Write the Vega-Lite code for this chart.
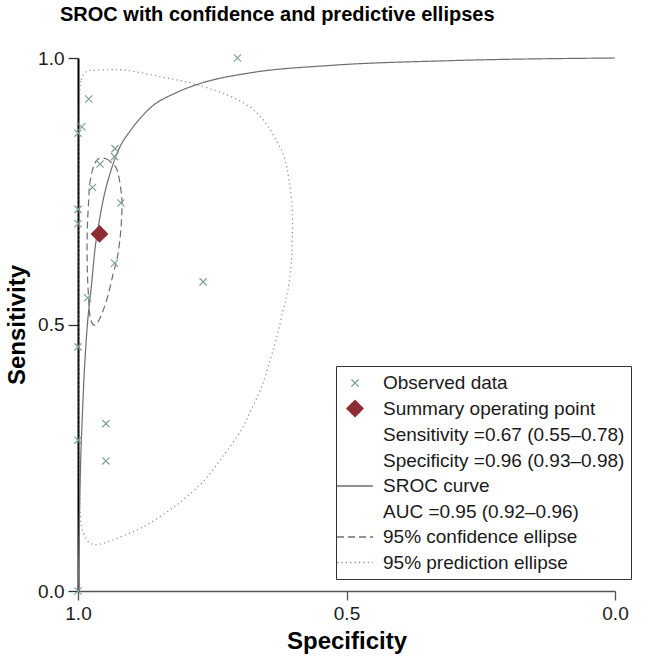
{
  "$schema": "https://vega.github.io/schema/vega-lite/v6.json",
  "width": 537,
  "height": 533,
  "autosize": {"type": "none"},
  "padding": {"left": 78, "top": 58, "right": 38, "bottom": 69},
  "background": "white",
  "title": {
    "text": "SROC with confidence and predictive ellipses",
    "font": "Liberation Sans",
    "fontSize": 20,
    "fontWeight": "bold",
    "color": "#000",
    "anchor": "start",
    "frame": "group",
    "dx": -18,
    "offset": 24
  },
  "datasets": {
    "pts": [
      {"series": "Observed data", "spec": 0.703, "sens": 1.0},
      {"series": "Observed data", "spec": 0.98, "sens": 0.923},
      {"series": "Observed data", "spec": 0.993, "sens": 0.871},
      {"series": "Observed data", "spec": 1.0, "sens": 0.859},
      {"series": "Observed data", "spec": 0.931, "sens": 0.83},
      {"series": "Observed data", "spec": 0.932, "sens": 0.815},
      {"series": "Observed data", "spec": 0.959, "sens": 0.801},
      {"series": "Observed data", "spec": 0.973, "sens": 0.757},
      {"series": "Observed data", "spec": 0.92, "sens": 0.728},
      {"series": "Observed data", "spec": 1.0, "sens": 0.716},
      {"series": "Observed data", "spec": 1.0, "sens": 0.689},
      {"series": "Observed data", "spec": 0.932, "sens": 0.615},
      {"series": "Observed data", "spec": 0.767, "sens": 0.58},
      {"series": "Observed data", "spec": 0.982, "sens": 0.55},
      {"series": "Observed data", "spec": 1.0, "sens": 0.458},
      {"series": "Observed data", "spec": 0.948, "sens": 0.314},
      {"series": "Observed data", "spec": 1.0, "sens": 0.283},
      {"series": "Observed data", "spec": 0.948, "sens": 0.244},
      {"series": "Observed data", "spec": 1.0, "sens": 0.0},
      {"series": "Summary operating point", "spec": 0.96, "sens": 0.67}
    ],
    "curves": [
      {"series": "SROC curve", "o": 1, "spec": 0.9996, "sens": 0.0},
      {"series": "SROC curve", "o": 2, "spec": 0.998, "sens": 0.096},
      {"series": "SROC curve", "o": 3, "spec": 0.995, "sens": 0.246},
      {"series": "SROC curve", "o": 4, "spec": 0.993, "sens": 0.302},
      {"series": "SROC curve", "o": 5, "spec": 0.989, "sens": 0.396},
      {"series": "SROC curve", "o": 6, "spec": 0.984, "sens": 0.48},
      {"series": "SROC curve", "o": 7, "spec": 0.974, "sens": 0.583},
      {"series": "SROC curve", "o": 8, "spec": 0.968, "sens": 0.645},
      {"series": "SROC curve", "o": 9, "spec": 0.964, "sens": 0.672},
      {"series": "SROC curve", "o": 10, "spec": 0.953, "sens": 0.734},
      {"series": "SROC curve", "o": 11, "spec": 0.937, "sens": 0.794},
      {"series": "SROC curve", "o": 12, "spec": 0.922, "sens": 0.833},
      {"series": "SROC curve", "o": 13, "spec": 0.903, "sens": 0.863},
      {"series": "SROC curve", "o": 14, "spec": 0.885, "sens": 0.886},
      {"series": "SROC curve", "o": 15, "spec": 0.866, "sens": 0.906},
      {"series": "SROC curve", "o": 16, "spec": 0.819, "sens": 0.934},
      {"series": "SROC curve", "o": 17, "spec": 0.773, "sens": 0.952},
      {"series": "SROC curve", "o": 18, "spec": 0.68, "sens": 0.972},
      {"series": "SROC curve", "o": 19, "spec": 0.531, "sens": 0.986},
      {"series": "SROC curve", "o": 20, "spec": 0.307, "sens": 0.995},
      {"series": "SROC curve", "o": 21, "spec": 0.0, "sens": 1.0},

      {"series": "95% confidence ellipse", "o": 1, "spec": 0.959, "sens": 0.812},
      {"series": "95% confidence ellipse", "o": 2, "spec": 0.948, "sens": 0.811},
      {"series": "95% confidence ellipse", "o": 3, "spec": 0.939, "sens": 0.805},
      {"series": "95% confidence ellipse", "o": 4, "spec": 0.929, "sens": 0.794},
      {"series": "95% confidence ellipse", "o": 5, "spec": 0.924, "sens": 0.777},
      {"series": "95% confidence ellipse", "o": 6, "spec": 0.92, "sens": 0.752},
      {"series": "95% confidence ellipse", "o": 7, "spec": 0.918, "sens": 0.728},
      {"series": "95% confidence ellipse", "o": 8, "spec": 0.919, "sens": 0.696},
      {"series": "95% confidence ellipse", "o": 9, "spec": 0.922, "sens": 0.659},
      {"series": "95% confidence ellipse", "o": 10, "spec": 0.927, "sens": 0.625},
      {"series": "95% confidence ellipse", "o": 11, "spec": 0.935, "sens": 0.593},
      {"series": "95% confidence ellipse", "o": 12, "spec": 0.944, "sens": 0.555},
      {"series": "95% confidence ellipse", "o": 13, "spec": 0.953, "sens": 0.527},
      {"series": "95% confidence ellipse", "o": 14, "spec": 0.961, "sens": 0.508},
      {"series": "95% confidence ellipse", "o": 15, "spec": 0.968, "sens": 0.499},
      {"series": "95% confidence ellipse", "o": 16, "spec": 0.974, "sens": 0.503},
      {"series": "95% confidence ellipse", "o": 17, "spec": 0.978, "sens": 0.518},
      {"series": "95% confidence ellipse", "o": 18, "spec": 0.98, "sens": 0.546},
      {"series": "95% confidence ellipse", "o": 19, "spec": 0.982, "sens": 0.583},
      {"series": "95% confidence ellipse", "o": 20, "spec": 0.983, "sens": 0.621},
      {"series": "95% confidence ellipse", "o": 21, "spec": 0.983, "sens": 0.659},
      {"series": "95% confidence ellipse", "o": 22, "spec": 0.982, "sens": 0.696},
      {"series": "95% confidence ellipse", "o": 23, "spec": 0.98, "sens": 0.734},
      {"series": "95% confidence ellipse", "o": 24, "spec": 0.978, "sens": 0.765},
      {"series": "95% confidence ellipse", "o": 25, "spec": 0.972, "sens": 0.794},
      {"series": "95% confidence ellipse", "o": 26, "spec": 0.966, "sens": 0.807},

      {"series": "95% prediction ellipse", "o": 1, "spec": 0.997, "sens": 0.921},
      {"series": "95% prediction ellipse", "o": 2, "spec": 0.994, "sens": 0.959},
      {"series": "95% prediction ellipse", "o": 3, "spec": 0.985, "sens": 0.974},
      {"series": "95% prediction ellipse", "o": 4, "spec": 0.972, "sens": 0.977},
      {"series": "95% prediction ellipse", "o": 5, "spec": 0.94, "sens": 0.978},
      {"series": "95% prediction ellipse", "o": 6, "spec": 0.909, "sens": 0.977},
      {"series": "95% prediction ellipse", "o": 7, "spec": 0.847, "sens": 0.965},
      {"series": "95% prediction ellipse", "o": 8, "spec": 0.786, "sens": 0.952},
      {"series": "95% prediction ellipse", "o": 9, "spec": 0.723, "sens": 0.931},
      {"series": "95% prediction ellipse", "o": 10, "spec": 0.68, "sens": 0.908},
      {"series": "95% prediction ellipse", "o": 11, "spec": 0.652, "sens": 0.88},
      {"series": "95% prediction ellipse", "o": 12, "spec": 0.631, "sens": 0.846},
      {"series": "95% prediction ellipse", "o": 13, "spec": 0.616, "sens": 0.814},
      {"series": "95% prediction ellipse", "o": 14, "spec": 0.607, "sens": 0.771},
      {"series": "95% prediction ellipse", "o": 15, "spec": 0.601, "sens": 0.715},
      {"series": "95% prediction ellipse", "o": 16, "spec": 0.601, "sens": 0.659},
      {"series": "95% prediction ellipse", "o": 17, "spec": 0.603, "sens": 0.612},
      {"series": "95% prediction ellipse", "o": 18, "spec": 0.609, "sens": 0.565},
      {"series": "95% prediction ellipse", "o": 19, "spec": 0.618, "sens": 0.527},
      {"series": "95% prediction ellipse", "o": 20, "spec": 0.629, "sens": 0.48},
      {"series": "95% prediction ellipse", "o": 21, "spec": 0.641, "sens": 0.437},
      {"series": "95% prediction ellipse", "o": 22, "spec": 0.657, "sens": 0.386},
      {"series": "95% prediction ellipse", "o": 23, "spec": 0.676, "sens": 0.343},
      {"series": "95% prediction ellipse", "o": 24, "spec": 0.696, "sens": 0.302},
      {"series": "95% prediction ellipse", "o": 25, "spec": 0.732, "sens": 0.25},
      {"series": "95% prediction ellipse", "o": 26, "spec": 0.767, "sens": 0.205},
      {"series": "95% prediction ellipse", "o": 27, "spec": 0.801, "sens": 0.174},
      {"series": "95% prediction ellipse", "o": 28, "spec": 0.829, "sens": 0.152},
      {"series": "95% prediction ellipse", "o": 29, "spec": 0.879, "sens": 0.12},
      {"series": "95% prediction ellipse", "o": 30, "spec": 0.927, "sens": 0.099},
      {"series": "95% prediction ellipse", "o": 31, "spec": 0.959, "sens": 0.088},
      {"series": "95% prediction ellipse", "o": 32, "spec": 0.978, "sens": 0.09},
      {"series": "95% prediction ellipse", "o": 33, "spec": 0.989, "sens": 0.107},
      {"series": "95% prediction ellipse", "o": 34, "spec": 0.995, "sens": 0.133},
      {"series": "95% prediction ellipse", "o": 35, "spec": 0.997, "sens": 0.189},
      {"series": "95% prediction ellipse", "o": 36, "spec": 0.998, "sens": 0.358},
      {"series": "95% prediction ellipse", "o": 37, "spec": 0.998, "sens": 0.546},
      {"series": "95% prediction ellipse", "o": 38, "spec": 0.998, "sens": 0.734}
    ]
  },
  "encoding": {
    "x": {
      "field": "spec", "type": "quantitative",
      "scale": {"domain": [0, 1], "reverse": true, "nice": false, "zero": false},
      "axis": {"title": "Specificity", "values": [1, 0.5, 0], "format": ".1f", "labelFlush": false}
    },
    "y": {
      "field": "sens", "type": "quantitative",
      "scale": {"domain": [0, 1], "nice": false},
      "axis": {"title": "Sensitivity", "values": [0, 0.5, 1], "format": ".1f", "labelFlush": false}
    }
  },
  "layer": [
    {
      "data": {"name": "curves"},
      "transform": [{"filter": "datum.series != 'SROC curve'"}],
      "mark": {"type": "line", "strokeWidth": 1.2, "clip": false, "interpolate": "cardinal-closed"},
      "encoding": {
        "order": {"field": "o", "type": "quantitative"},
        "stroke": {
          "field": "series", "type": "nominal", "title": null,
          "scale": {
            "domain": ["Observed data", "Summary operating point", "Sensitivity =0.67 (0.55–0.78)", "Specificity =0.96 (0.93–0.98)", "SROC curve", "AUC =0.95 (0.92–0.96)", "95% confidence ellipse", "95% prediction ellipse"],
            "range": ["#7f9fa0", "#8c2d35", "transparent", "transparent", "#6e6e6e", "transparent", "#6e6e6e", "#8a8a8a"]
          }
        },
        "strokeDash": {
          "field": "series", "type": "nominal", "title": null,
          "scale": {
            "domain": ["Observed data", "Summary operating point", "Sensitivity =0.67 (0.55–0.78)", "Specificity =0.96 (0.93–0.98)", "SROC curve", "AUC =0.95 (0.92–0.96)", "95% confidence ellipse", "95% prediction ellipse"],
            "range": [[1, 0], [1, 0], [1, 0], [1, 0], [1, 0], [1, 0], [7, 4], [1.2, 3.2]]
          }
        }
      }
    },
    {
      "data": {"name": "curves"},
      "transform": [{"filter": "datum.series == 'SROC curve'"}],
      "mark": {"type": "line", "strokeWidth": 1.2, "clip": false, "interpolate": "monotone"},
      "encoding": {
        "order": {"field": "o", "type": "quantitative"},
        "stroke": {
          "field": "series", "type": "nominal", "title": null,
          "scale": {
            "domain": ["Observed data", "Summary operating point", "Sensitivity =0.67 (0.55–0.78)", "Specificity =0.96 (0.93–0.98)", "SROC curve", "AUC =0.95 (0.92–0.96)", "95% confidence ellipse", "95% prediction ellipse"],
            "range": ["#7f9fa0", "#8c2d35", "transparent", "transparent", "#6e6e6e", "transparent", "#6e6e6e", "#8a8a8a"]
          }
        },
        "strokeDash": {
          "field": "series", "type": "nominal", "title": null,
          "scale": {
            "domain": ["Observed data", "Summary operating point", "Sensitivity =0.67 (0.55–0.78)", "Specificity =0.96 (0.93–0.98)", "SROC curve", "AUC =0.95 (0.92–0.96)", "95% confidence ellipse", "95% prediction ellipse"],
            "range": [[1, 0], [1, 0], [1, 0], [1, 0], [1, 0], [1, 0], [7, 4], [1.2, 3.2]]
          }
        }
      }
    },
    {
      "data": {"name": "pts"},
      "mark": {"type": "point", "size": 400, "strokeWidth": 1.2, "opacity": 1},
      "encoding": {
        "shape": {
          "field": "series", "type": "nominal", "title": null,
          "scale": {
            "domain": ["Observed data", "Summary operating point", "Sensitivity =0.67 (0.55–0.78)", "Specificity =0.96 (0.93–0.98)", "SROC curve", "AUC =0.95 (0.92–0.96)", "95% confidence ellipse", "95% prediction ellipse"],
            "range": ["M-0.36,-0.36L0.36,0.36M-0.36,0.36L0.36,-0.36", "M0,-0.81L0.81,0L0,0.81L-0.81,0Z", "M0,0", "M0,0", "M-1.8,0L1.8,0", "M0,0", "M-1.8,0L1.8,0", "M-1.8,0L1.8,0"]
          }
        },
        "fill": {
          "field": "series", "type": "nominal", "title": null,
          "scale": {
            "domain": ["Observed data", "Summary operating point", "Sensitivity =0.67 (0.55–0.78)", "Specificity =0.96 (0.93–0.98)", "SROC curve", "AUC =0.95 (0.92–0.96)", "95% confidence ellipse", "95% prediction ellipse"],
            "range": ["transparent", "#8c2d35", "transparent", "transparent", "transparent", "transparent", "transparent", "transparent"]
          }
        },
        "stroke": {
          "field": "series", "type": "nominal", "title": null,
          "scale": {
            "domain": ["Observed data", "Summary operating point", "Sensitivity =0.67 (0.55–0.78)", "Specificity =0.96 (0.93–0.98)", "SROC curve", "AUC =0.95 (0.92–0.96)", "95% confidence ellipse", "95% prediction ellipse"],
            "range": ["#7f9fa0", "#8c2d35", "transparent", "transparent", "#6e6e6e", "transparent", "#6e6e6e", "#8a8a8a"]
          }
        }
      }
    }
  ],
  "config": {
    "view": {"stroke": null},
    "axis": {
      "grid": false,
      "labelFont": "Liberation Sans",
      "labelFontSize": 19,
      "labelColor": "#1a1a1a",
      "titleFont": "Liberation Sans",
      "titleFontSize": 24,
      "titleFontWeight": "bold",
      "titleColor": "#000"
    },
    "axisX": {
      "domainColor": "#555",
      "domainWidth": 1.6,
      "tickColor": "#555",
      "tickWidth": 1.3,
      "tickSize": 9,
      "labelPadding": 4,
      "titlePadding": 6
    },
    "axisY": {
      "domainColor": "#000",
      "domainWidth": 2,
      "tickColor": "#333",
      "tickWidth": 1.3,
      "tickSize": 10,
      "labelPadding": 4,
      "titlePadding": 8
    },
    "legend": {
      "orient": "none",
      "legendX": 258,
      "legendY": 308,
      "padding": 6,
      "strokeColor": "#333",
      "fillColor": "white",
      "labelFont": "Liberation Sans",
      "labelFontSize": 19,
      "labelColor": "#1a1a1a",
      "labelLimit": 400,
      "symbolSize": 400,
      "symbolStrokeWidth": 1.3,
      "symbolOffset": 2,
      "labelOffset": 17,
      "rowPadding": 4.5
    }
  }
}
